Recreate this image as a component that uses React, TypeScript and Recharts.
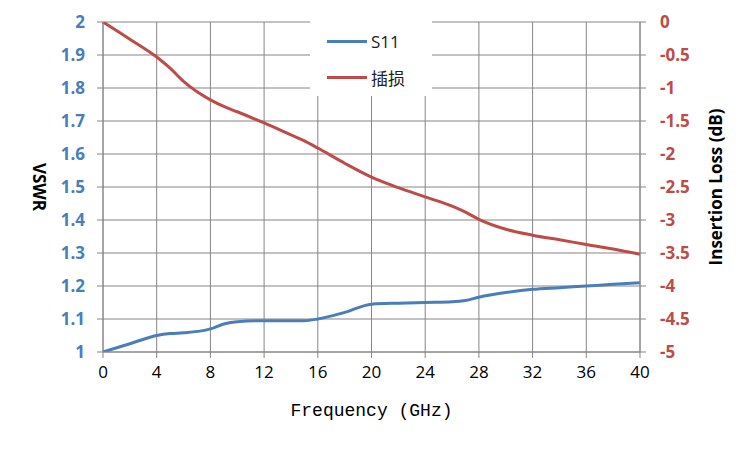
import { LineChart, Line, XAxis, YAxis, CartesianGrid } from "recharts";

const freq = [0, 2, 4, 5, 6, 8, 9, 10, 12, 14, 15, 16, 18, 20, 22, 24, 26, 27, 28, 30, 32, 34, 36, 38, 40];
const s11 = [1.0, 1.025, 1.05, 1.056, 1.058, 1.07, 1.085, 1.092, 1.095, 1.095, 1.095, 1.1, 1.12, 1.145, 1.148, 1.15, 1.152, 1.156, 1.166, 1.18, 1.19, 1.195, 1.2, 1.205, 1.21];
const loss = [0, -0.26, -0.53, -0.7, -0.9, -1.18, -1.28, -1.36, -1.53, -1.71, -1.8, -1.91, -2.14, -2.35, -2.51, -2.65, -2.79, -2.88, -2.99, -3.14, -3.23, -3.3, -3.37, -3.44, -3.52];

const xTicks = [0, 4, 8, 12, 16, 20, 24, 28, 32, 36, 40];
const vswrTicks = [1, 1.1, 1.2, 1.3, 1.4, 1.5, 1.6, 1.7, 1.8, 1.9, 2];
const lossTicks = [0, -0.5, -1, -1.5, -2, -2.5, -3, -3.5, -4, -4.5, -5];

const BLUE = "#4a7ebb";
const RED = "#be4b48";
const GRID = "#868686";

const data = freq.map((f, i) => ({ f, s11: s11[i], loss: loss[i] }));

const sans = "'Open Sans', 'Noto Sans', sans-serif";

function LegendBox() {
  const items = [
    { name: "S11", color: BLUE },
    { name: "插损", color: RED },
  ];
  return (
    <div
      style={{
        position: "absolute",
        left: 310,
        top: 16,
        width: 122,
        height: 80,
        paddingTop: 7,
        boxSizing: "border-box",
        background: "#fff",
      }}
    >
      {items.map((it) => (
        <div key={it.name} style={{ display: "flex", alignItems: "center", height: 36 }}>
          <div style={{ width: 40, height: 3, background: it.color, marginLeft: 17, marginRight: 4 }} />
          <span style={{ fontFamily: "'Open Sans', 'Noto Sans CJK SC', sans-serif", fontSize: 17, color: "#222" }}>
            {it.name}
          </span>
        </div>
      ))}
    </div>
  );
}

export default function App() {
  return (
    <div style={{ position: "absolute", left: 0, top: 0, width: 750, height: 450, background: "#fff" }}>
      <LineChart width={750} height={450} data={data} margin={{ top: 22, right: 0, bottom: 0, left: 0 }}>
        <CartesianGrid stroke={GRID} strokeWidth={1} yAxisId="l" horizontalValues={vswrTicks} verticalValues={xTicks} />
        <XAxis
          dataKey="f"
          type="number"
          domain={[0, 40]}
          ticks={xTicks}
          interval={0}
          stroke={GRID}
          tickSize={6}
          height={98}
          tick={{ fill: "#000", fontSize: 17, fontFamily: sans }}
          tickMargin={8}
          label={{
            value: "Frequency (GHz)",
            position: "insideTop",
            dy: 46,
            style: { fill: "#000", fontSize: 18, fontFamily: "'Liberation Mono', 'DejaVu Sans Mono', monospace" },
          }}
        />
        <YAxis
          yAxisId="l"
          orientation="left"
          domain={[1, 2]}
          ticks={vswrTicks}
          interval={0}
          width={103}
          stroke={GRID}
          tickSize={6}
          tickMargin={12}
          allowDataOverflow
          tickFormatter={(v: number) => String(Math.round(v * 10) / 10)}
          tick={{ fill: BLUE, fontSize: 17, fontWeight: 700, fontFamily: sans }}
          label={{
            value: "VSWR",
            angle: 90,
            position: "insideLeft",
            dx: 34,
            style: { fill: "#000", fontSize: 17, fontWeight: 700, fontFamily: sans, textAnchor: "middle" },
          }}
        />
        <YAxis
          yAxisId="r"
          orientation="right"
          domain={[-5, 0]}
          ticks={lossTicks}
          interval={0}
          width={110}
          stroke={GRID}
          tickSize={6}
          tickMargin={14}
          allowDataOverflow
          tick={{ fill: RED, fontSize: 17, fontWeight: 700, fontFamily: sans, textAnchor: "start" }}
          label={{
            value: "Insertion Loss (dB)",
            angle: -90,
            position: "insideRight",
            dx: -29,
            style: { fill: "#000", fontSize: 17, fontWeight: 700, fontFamily: sans, textAnchor: "middle" },
          }}
        />
        <Line
          yAxisId="l"
          dataKey="s11"
          name="S11"
          type="monotone"
          stroke={BLUE}
          strokeWidth={3}
          dot={false}
          isAnimationActive={false}
        />
        <Line
          yAxisId="r"
          dataKey="loss"
          name="插损"
          type="monotone"
          stroke={RED}
          strokeWidth={3}
          dot={false}
          isAnimationActive={false}
        />
      </LineChart>
      <LegendBox />
    </div>
  );
}
